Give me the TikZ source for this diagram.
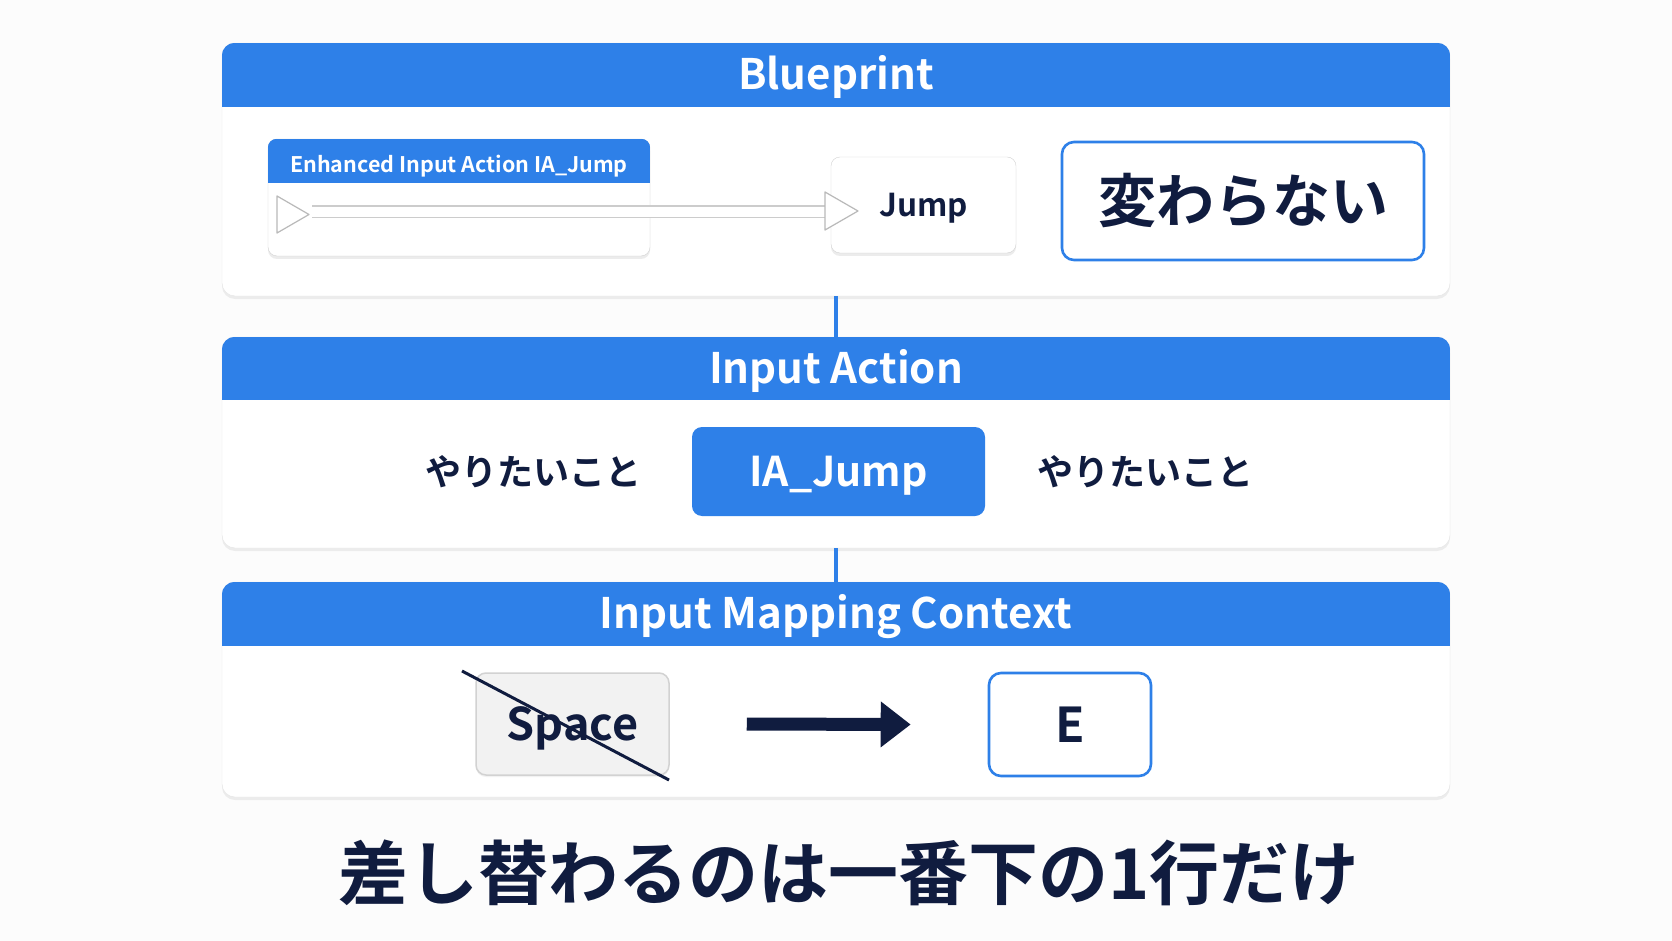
\documentclass[tikz,border=0pt]{standalone}
\usepackage{fontspec}
\setmainfont{Noto Sans CJK JP}[BoldFont={Noto Sans CJK JP Bold}]
\usepackage{xcolor}
\usetikzlibrary{positioning,calc,shadows,arrows.meta}
\definecolor{ueblue}{HTML}{2E80E8}
\definecolor{navy}{HTML}{101C3F}
\definecolor{pagebg}{HTML}{FCFCFC}
\begin{document}
\begin{tikzpicture}[
    x=1pt, y=1pt,
    every node/.style={font=\bfseries, text=navy},
    panel/.style={rectangle, draw=gray!20, fill=white, rounded corners=13pt, minimum width=1228pt, inner sep=0pt, drop shadow={opacity=0.12, shadow xshift=0pt, shadow yshift=-3pt}},
    paneltitle/.style={text=white, font=\bfseries\fontsize{42}{50}\selectfont, text height=30pt, text depth=0pt},
    bpnode/.style={rectangle, draw=gray!35, fill=white, rounded corners=9pt, inner sep=0pt, drop shadow={opacity=0.15, shadow xshift=0pt, shadow yshift=-3pt}},
    pin/.style={draw=gray!55, fill=white, line width=1.2pt, line join=round},
    wire/.style={draw=gray!40, double=white, double distance=10pt, line width=1.5pt},
    outlinebox/.style={rectangle, draw=ueblue, line width=2.6pt, fill=white, rounded corners=12pt},
    keybox/.style={rectangle, draw=gray!35, fill=gray!10, line width=1.5pt, rounded corners=10pt, drop shadow={opacity=0.1, shadow xshift=0pt, shadow yshift=-2pt}},
    link/.style={draw=ueblue, line width=4pt},
    bigarrow/.style={-{Triangle[length=30pt,width=44pt]}, draw=navy, line width=13pt},
    jp/.style={font=\bfseries\fontsize{36}{44}\selectfont}
]

% Page
\fill[pagebg] (0,0) rectangle (1672,-941);
\useasboundingbox (0,0) rectangle (1672,-941);

% Panels
\node[panel, minimum height=253pt] (bp) at (836,-169.5) {};
\node[panel, minimum height=211pt] (ia) at (836,-442.5) {};
\node[panel, minimum height=215pt] (imc) at (836,-689.5) {};

% Blue headers
\foreach \p/\h in {bp/64,ia/63,imc/64}{
  \begin{scope}
    \clip[rounded corners=13pt] (\p.south west) rectangle (\p.north east);
    \fill[ueblue] (\p.north west) rectangle ([yshift=-\h pt]\p.north east);
  \end{scope}
}
\node[paneltitle] (bptitle) at ($(bp.north)+(0,-32)$) {Blueprint};
\node[paneltitle] (iatitle) at ($(ia.north)+(0,-31.5)$) {Input Action};
\node[paneltitle] (imctitle) at ($(imc.north)+(0,-32)$) {Input Mapping Context};

% Links between panels
\draw[link] (bp.south) -- (ia.north);
\draw[link] (ia.south) -- (imc.north);

% Blueprint row
\node[bpnode, minimum width=382pt, minimum height=117pt] (evt) at (459,-197.5) {};
\begin{scope}
  \clip[rounded corners=9pt] (evt.south west) rectangle (evt.north east);
  \fill[ueblue] (evt.north west) rectangle ([yshift=-44pt]evt.north east);
\end{scope}
\node[text=white, font=\bfseries\fontsize{21.5}{26}\selectfont, text height=15.5pt, text depth=0pt] (evttitle) at ($(evt.north)+(0,-25.5)$) {Enhanced Input Action IA\_Jump};
\node[bpnode, minimum width=185pt, minimum height=96pt, font=\bfseries\fontsize{31.5}{38}\selectfont, text height=23pt, text depth=0pt] (jump) at (923.5,-205) {Jump};
\coordinate (pinout) at (312,-212);
\coordinate (pinin) at (826,-212);
\draw[wire] (pinout) -- (pinin);
\draw[pin] (277,-196) -- (309,-214.5) -- (277,-233) -- cycle;
\draw[pin] (825,-192) -- (858,-211) -- (825,-230) -- cycle;
\node[outlinebox, minimum width=362pt, minimum height=118pt, font=\bfseries\fontsize{58}{68}\selectfont] (same) at (1243,-201) {変わらない};

% Input Action row
\node[rectangle, fill=ueblue, rounded corners=10pt, minimum width=293pt, minimum height=89pt, text=white, font=\bfseries\fontsize{41}{50}\selectfont, text height=29.5pt, text depth=0pt] (iajump) at (838.5,-471.5) {IA\_Jump};
\node[jp] (wantl) at (533,-472) {やりたいこと};
\node[jp] (wantr) at (1145,-472) {やりたいこと};

% Mapping row
\node[keybox, minimum width=193pt, minimum height=102pt, font=\bfseries\fontsize{45}{54}\selectfont, text height=32.5pt, text depth=0pt] (space) at (572.5,-724) {Space};
\coordinate (strikea) at (462,-671);
\coordinate (strikeb) at (669,-780);
\draw[navy, line width=3pt] (strikea) -- (strikeb);
\node[outlinebox, minimum width=162pt, minimum height=103pt, font=\bfseries\fontsize{48}{56}\selectfont] (ekey) at (1070,-724.5) {E};
\draw[bigarrow] ([xshift=77pt]space.east) -- ([xshift=-77pt]ekey.west);

% Caption
\node[font=\bfseries\fontsize{70}{82}\selectfont] (caption) at (849,-873) {差し替わるのは一番下の1行だけ};

\end{tikzpicture}
\end{document}
